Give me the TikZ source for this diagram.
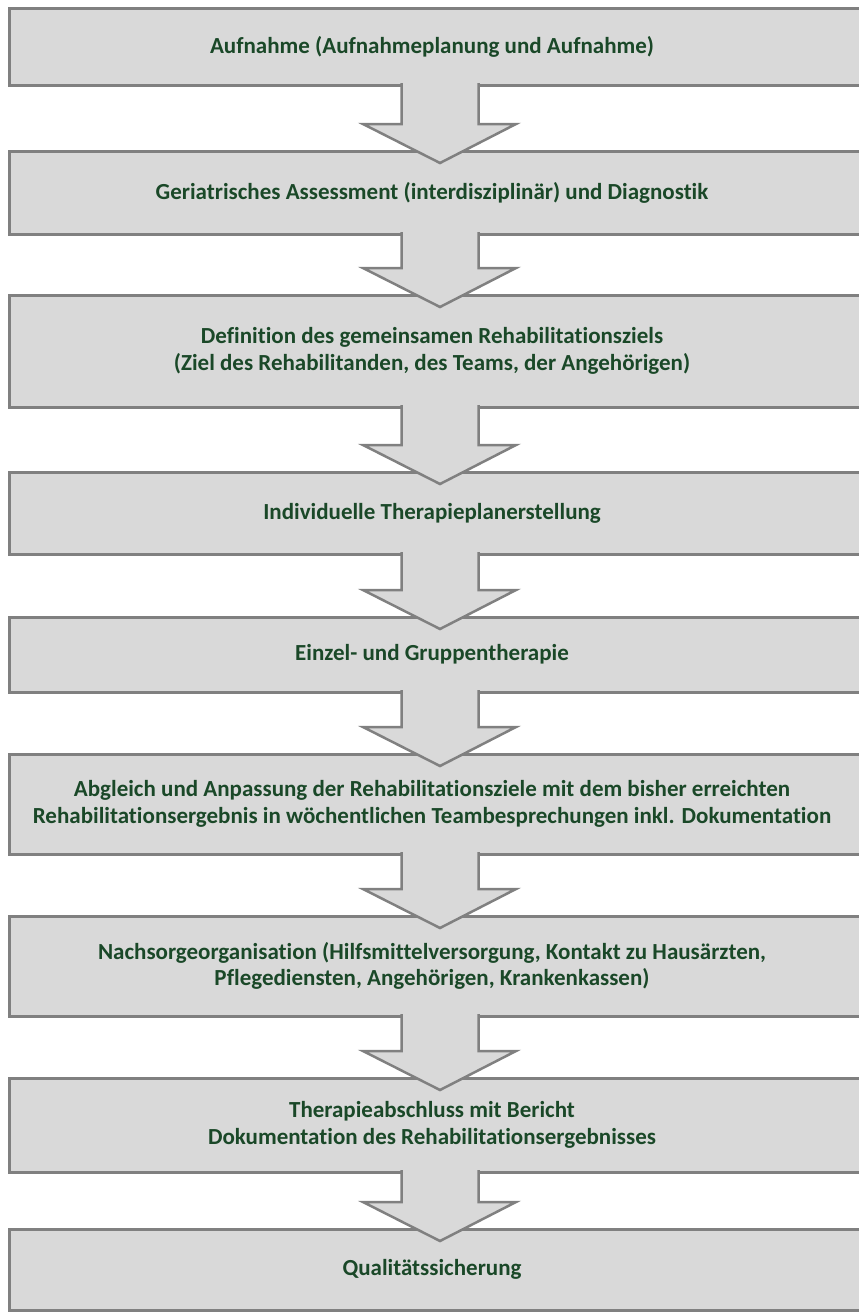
\documentclass[tikz,border=0pt]{standalone}
\usepackage{fontspec}
\setmainfont[Ligatures=NoCommon]{Carlito}
\usetikzlibrary{calc}
\definecolor{boxfill}{HTML}{D9D9D9}
\definecolor{boxline}{HTML}{808080}
\definecolor{txtgreen}{RGB}{26,72,40}
\begin{document}
\begin{tikzpicture}[x=1pt,y=-1pt,
  box/.style={draw=boxline, fill=boxfill, line width=3pt, minimum width=862pt, anchor=north west, inner sep=0pt, outer sep=0pt},
  boxtext/.style={text=txtgreen, font=\fontsize{23}{26.5}\selectfont\bfseries, align=center, inner sep=0pt},
  arrowline/.style={draw=boxline, line width=2.5pt, line join=miter}]
\useasboundingbox (0,0) rectangle (859,1312);
\fill[white] (0,0) rectangle (859,1312);

\node[box, minimum height=77pt]  (b1) at (9,8) {};
\node[box, minimum height=83pt]  (b2) at (9,151) {};
\node[box, minimum height=112pt] (b3) at (9,295) {};
\node[box, minimum height=82pt]  (b4) at (9,472) {};
\node[box, minimum height=75pt]  (b5) at (9,617) {};
\node[box, minimum height=100pt] (b6) at (9,754) {};
\node[box, minimum height=100pt] (b7) at (9,916) {};
\node[box, minimum height=94pt]  (b8) at (9,1078) {};
\node[box, minimum height=81pt]  (b9) at (9,1229) {};

\foreach \u/\l in {b1/b2,b2/b3,b3/b4,b4/b5,b5/b6,b6/b7,b7/b8,b8/b9}{
  \coordinate (st) at ([yshift=2pt]\u.south);
  \coordinate (hd) at ([yshift=27pt]\l.north);
  \coordinate (tp) at ([yshift=-12pt]\l.north);
  \fill[boxfill] ([xshift=-38.5pt]st) -- ([xshift=-38.5pt]hd) -- ([xshift=-77pt]hd) -- (tp)
     -- ([xshift=76pt]hd) -- ([xshift=38.5pt]hd) -- ([xshift=38.5pt]st) -- cycle;
  \draw[arrowline] ([xshift=-38.5pt]st) -- ([xshift=-38.5pt]hd) -- ([xshift=-77pt]hd) -- (tp)
     -- ([xshift=76pt]hd) -- ([xshift=38.5pt]hd) -- ([xshift=38.5pt]st);
}

\node[boxtext] (t1) at ($(b1.center)+(-8,0)$) {Aufnahme (Aufnahmeplanung und Aufnahme)};
\node[boxtext] (t2) at ($(b2.center)+(-8,0)$) {Geriatrisches Assessment (interdisziplinär) und Diagnostik};
\node[boxtext] (t3) at ($(b3.center)+(-8,0)$) {Definition des gemeinsamen Rehabilitationsziels\\(Ziel des Rehabilitanden, des Teams, der Angehörigen)};
\node[boxtext] (t4) at ($(b4.center)+(-8,0)$) {Individuelle Therapieplanerstellung};
\node[boxtext] (t5) at ($(b5.center)+(-8,0)$) {Einzel- und Gruppentherapie};
\node[boxtext] (t6) at ($(b6.center)+(-8,0)$) {Abgleich und Anpassung der Rehabilitationsziele mit dem bisher erreichten\\Rehabilitationsergebnis in wöchentlichen Teambesprechungen inkl. Dokumentation};
\node[boxtext] (t7) at ($(b7.center)+(-8,0)$) {Nachsorgeorganisation (Hilfsmittelversorgung, Kontakt zu Hausärzten,\\Pflegediensten, Angehörigen, Krankenkassen)};
\node[boxtext] (t8) at ($(b8.center)+(-8,0)$) {Therapieabschluss mit Bericht\\Dokumentation des Rehabilitationsergebnisses};
\node[boxtext] (t9) at ($(b9.center)+(-8,0)$) {Qualitätssicherung};
\end{tikzpicture}
\end{document}
